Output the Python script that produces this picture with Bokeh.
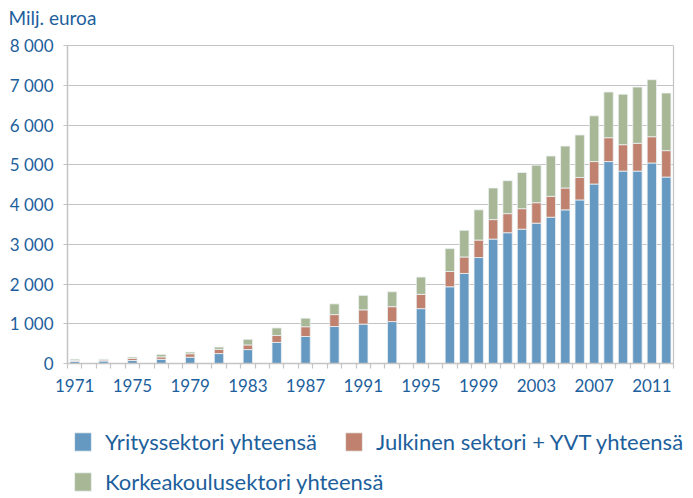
from bokeh.plotting import figure
from bokeh.models import (ColumnDataSource, Range1d, FixedTicker, Legend, LegendItem, Label,
                          LinearAxis)
from bokeh.embed import file_html
from bokeh.resources import INLINE

years = [1971, 1973, 1975, 1977, 1979, 1981, 1983, 1985, 1987, 1989, 1991, 1993, 1995,
         1997, 1998, 1999, 2000, 2001, 2002, 2003, 2004, 2005, 2006, 2007, 2008, 2009,
         2010, 2011, 2012]
yritys = [50, 62, 75, 105, 158, 250, 350, 530, 680, 930, 990, 1055, 1380,
          1930, 2265, 2665, 3130, 3290, 3380, 3530, 3680, 3865, 4115, 4515, 5080, 4840,
          4840, 5045, 4690]
julkinen = [25, 26, 55, 62, 87, 105, 117, 175, 245, 300, 360, 375, 360,
            385, 415, 440, 490, 480, 515, 515, 525, 550, 565, 565, 600, 665,
            700, 660, 665]
korkeakoulu = [35, 20, 32, 58, 43, 57, 141, 190, 215, 270, 365, 375, 435,
               575, 670, 760, 795, 830, 910, 945, 1015, 1055, 1070, 1150, 1150, 1270,
               1415, 1435, 1450]
series_names = ["Yrityssektori yhteensä", "Julkinen sektori + YVT yhteensä",
                "Korkeakoulusektori yhteensä"]
x_tick_labels = [1971, 1975, 1979, 1983, 1987, 1991, 1995, 1999, 2003, 2007, 2011]
y_ticks = [0, 1000, 2000, 3000, 4000, 5000, 6000, 7000, 8000]
y_label = "Milj. euroa"

FONT = "Lato"
TXT = "#1d5f9c"
GRID = "#c4c4c4"
colors = ["#6699c2", "#c0826e", "#a8b896"]
keys = ["a", "b", "c"]

W, H = 693, 498
# plot area in pixels: x 67..673 for 1970.5..2012.5, y 45..363 for 8000..0
X0, X1, PX_L, PX_R = years[0] - 0.5, years[-1] + 0.5, 67, 673
Y1, PY_T, PY_B = y_ticks[-1], 45, 363
kx = (X1 - X0) / (PX_R - PX_L)
ky = Y1 / (PY_B - PY_T)

src = ColumnDataSource(dict(x=years, a=yritys, b=julkinen, c=korkeakoulu))

p = figure(width=W, height=H, output_backend="svg", toolbar_location=None,
           x_range=Range1d(X0 - PX_L * kx, X1 + (W - PX_R) * kx),
           y_range=Range1d(-(H - PY_B) * ky, Y1 + PY_T * ky),
           min_border_left=0, min_border_right=0, min_border_top=0, min_border_bottom=0,
           x_axis_location=None, y_axis_location=None)
p.background_fill_color = "white"
p.border_fill_color = "white"
p.outline_line_color = None

# grid lines limited to the plot area
p.xgrid.grid_line_color = None
p.ygrid.ticker = FixedTicker(ticks=y_ticks)
p.ygrid.grid_line_color = GRID
p.ygrid.grid_line_width = 1.2
p.ygrid.bounds = (-1, Y1 + 1)
try:
    p.ygrid.cross_bounds = (X0, X1)
except Exception:
    p.ygrid.grid_line_color = None
    p.segment(x0=X0, x1=X1, y0=y_ticks, y1=y_ticks, line_color=GRID, line_width=1.2)

rs = p.vbar_stack(keys, x="x", width=0.65, source=src, color=colors,
                  line_color="#eef2f5", line_width=0.8)

# x axis at y=0
xax = LinearAxis(fixed_location=0, bounds=(X0, X1),
                 ticker=FixedTicker(ticks=x_tick_labels,
                                    minor_ticks=[y + 0.5 for y in range(1970, 2013)]))
xax.major_tick_line_color = None
xax.minor_tick_line_color = GRID
xax.minor_tick_line_width = 1.2
xax.minor_tick_out = 5
xax.minor_tick_in = 0
xax.major_label_text_font = FONT
xax.major_label_text_font_size = "17px"
xax.major_label_text_color = TXT
xax.major_label_standoff = 9
xax.axis_line_color = GRID
xax.axis_line_width = 1.5
p.add_layout(xax, "below")

# y axis at the left edge of the plot area
yax = LinearAxis(fixed_location=X0, bounds=(0, Y1),
                 ticker=FixedTicker(ticks=y_ticks, minor_ticks=[]))
yax.major_label_overrides = {t: (f"{t // 1000} 000" if t else "0") for t in y_ticks}
yax.major_tick_line_color = GRID
yax.major_tick_line_width = 1.2
yax.major_tick_out = 4
yax.major_tick_in = 0
yax.minor_tick_line_color = None
yax.major_label_text_font = FONT
yax.major_label_text_font_size = "17px"
yax.major_label_text_color = TXT
yax.major_label_standoff = 10
yax.axis_line_color = GRID
yax.axis_line_width = 1.5
p.add_layout(yax, "left")

# right border of the plot area
rax = LinearAxis(fixed_location=X1, bounds=(0, Y1),
                 ticker=FixedTicker(ticks=[], minor_ticks=[]))
rax.axis_line_color = GRID
rax.axis_line_width = 1.2
rax.major_tick_line_color = None
rax.minor_tick_line_color = None
rax.major_label_text_font_size = "0px"
p.add_layout(rax, "right")

p.add_layout(Label(x=8, y=H - 17, x_units="screen", y_units="screen", text=y_label,
                   text_font=FONT, text_font_size="19px", text_color=TXT,
                   text_baseline="alphabetic", text_align="left"))


def mk_legend(i, loc):
    lg = Legend(items=[LegendItem(label=series_names[i], renderers=[rs[i]])],
                location=loc, orientation="horizontal",
                glyph_width=21, glyph_height=23, label_height=23, label_standoff=12,
                label_text_font=FONT, label_text_font_size="22px", label_text_color=TXT,
                padding=0, margin=0, spacing=0, border_line_color=None,
                background_fill_alpha=0)
    p.add_layout(lg, "center")


mk_legend(0, (72, 43))
mk_legend(1, (343, 43))
mk_legend(2, (72, 3))

open("out.html", "w").write(file_html(p, INLINE))
